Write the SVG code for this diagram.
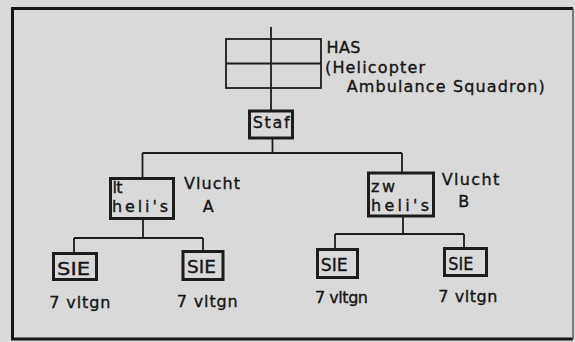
<svg xmlns="http://www.w3.org/2000/svg" width="575" height="342" viewBox="0 0 575 342">
<style>
.bg{fill:#d9d9d9}
.box{fill:none;stroke:#1c1c1c;stroke-width:3}
.thin{fill:none;stroke:#1c1c1c;stroke-width:1.8}
.con{fill:none;stroke:#1c1c1c;stroke-width:1.8}
.t{font-family:"DejaVu Sans","Liberation Sans",sans-serif;font-size:16px;fill:#151515;stroke:#151515;stroke-width:0.35}
.s{font-family:"DejaVu Sans","Liberation Sans",sans-serif;font-size:18px;fill:#151515;stroke:#151515;stroke-width:0.35}
</style>
<rect class="bg" x="0" y="0" width="575" height="342"/>
<g id="frame">
<path d="M12.5 339 V8.5 H573" fill="none" stroke="#151515" stroke-width="3"/>
<path d="M11 339 H573" fill="none" stroke="#151515" stroke-width="3"/>
<path d="M573 8.5 V339" fill="none" stroke="#5a5a5a" stroke-width="1.5"/>
</g>
<g id="connectors">
<path class="con" d="M271 27 V111"/>
<path class="con" d="M272.5 138 V153 M142.5 153 H402 M142.5 153 V178 M402 153 V173"/>
<path class="con" d="M143 218 V238 M74 238 H203 M74 238 V253 M203 238 V251"/>
<path class="con" d="M403 216 V234 M335 234 H464 M335 234 V249 M464 234 V248"/>
</g>
<g id="has">
<rect class="thin" x="226" y="39" width="95" height="49"/>
<path class="thin" d="M226 63.5 H321"/>
<text class="t" x="326.5" y="52.7" textLength="34" lengthAdjust="spacing">HAS</text>
<text class="t" x="325" y="73.3" textLength="100" lengthAdjust="spacing">(Helicopter</text>
<text class="t" x="346.7" y="91.7" textLength="198" lengthAdjust="spacing">Ambulance Squadron)</text>
</g>
<g id="staf">
<rect class="box" x="249.5" y="111" width="43" height="27" stroke-width="2.6"/>
<text class="t" x="252.7" y="128.3" textLength="37" lengthAdjust="spacing">Staf</text>
</g>
<g id="vlucht-a">
<rect class="box" x="110.5" y="178.5" width="63" height="40"/>
<text class="t" x="112.5" y="193" textLength="10" lengthAdjust="spacing">lt</text>
<text class="t" x="112" y="212" textLength="56" lengthAdjust="spacing">heli's</text>
<text class="t" x="184" y="189.3" textLength="56" lengthAdjust="spacing">Vlucht</text>
<text class="t" x="202.7" y="211.7">A</text>
</g>
<g id="vlucht-b">
<rect class="box" x="368.5" y="173" width="65" height="43"/>
<text class="t" x="371" y="192" textLength="24" lengthAdjust="spacing">zw</text>
<text class="t" x="371" y="210.5" textLength="58" lengthAdjust="spacing">heli's</text>
<text class="t" x="441.7" y="185" textLength="57.6" lengthAdjust="spacing">Vlucht</text>
<text class="t" x="458.3" y="206.7">B</text>
</g>
<g id="sie-a1">
<rect class="box" x="53.5" y="253.5" width="43" height="26"/>
<text class="s" x="57" y="274.5" textLength="33" lengthAdjust="spacingAndGlyphs">SIE</text>
<text class="t" x="49.3" y="308" textLength="61" lengthAdjust="spacing">7 vltgn</text>
</g>
<g id="sie-a2">
<rect class="box" x="183" y="251.5" width="40" height="28"/>
<text class="s" x="187" y="273.3" textLength="29" lengthAdjust="spacingAndGlyphs">SIE</text>
<text class="t" x="176.7" y="307" textLength="61" lengthAdjust="spacing">7 vltgn</text>
</g>
<g id="sie-b1">
<rect class="box" x="317.5" y="249.5" width="40" height="28"/>
<text class="s" x="320.7" y="270.5" textLength="27" lengthAdjust="spacingAndGlyphs">SIE</text>
<text class="t" x="315" y="303.3" textLength="53" lengthAdjust="spacing">7 vltgn</text>
</g>
<g id="sie-b2">
<rect class="box" x="444.5" y="248.5" width="42" height="27" stroke-width="2.4"/>
<text class="s" x="448.3" y="269.5" textLength="25" lengthAdjust="spacingAndGlyphs">SIE</text>
<text class="t" x="438.3" y="301.5" textLength="59" lengthAdjust="spacing">7 vltgn</text>
</g>
</svg>
